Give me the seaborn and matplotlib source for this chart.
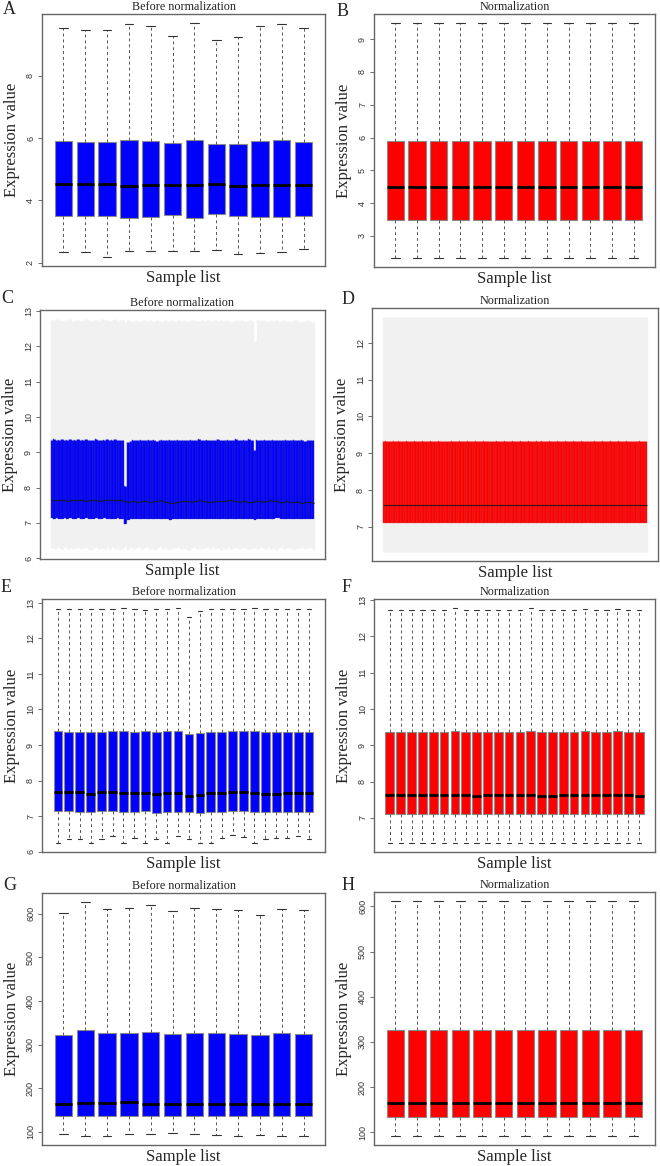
import matplotlib
matplotlib.use("Agg")
import matplotlib.pyplot as plt
import seaborn as sns
import pandas as pd

# ---------------- data ----------------
# each panel: lower whisker, Q1, median, Q3, upper whisker per sample

# A - before normalization (12 samples)
wlo_a = [2.34, 2.35, 2.19, 2.38, 2.38, 2.38, 2.36, 2.40, 2.27, 2.32, 2.35, 2.44]
q1_a = [3.50, 3.50, 3.48, 3.44, 3.47, 3.53, 3.44, 3.57, 3.51, 3.47, 3.47, 3.49]
med_a = [4.52, 4.52, 4.52, 4.46, 4.48, 4.48, 4.49, 4.51, 4.46, 4.50, 4.50, 4.50]
q3_a = [5.90, 5.88, 5.86, 5.93, 5.90, 5.84, 5.95, 5.82, 5.80, 5.90, 5.93, 5.88]
whi_a = [9.52, 9.48, 9.46, 9.65, 9.60, 9.28, 9.68, 9.16, 9.24, 9.60, 9.65, 9.52]

# B - normalization (12 samples, identical)
wlo_b = [2.34] * 12
q1_b = [3.48] * 12
med_b = [4.49] * 12
q3_b = [5.89] * 12
whi_b = [9.48] * 12

# C - before normalization (100 samples)
wlo_c = [6.30, 6.26, 6.32, 6.28, 6.25, 6.31, 6.27, 6.33, 6.26, 6.29,
         6.32, 6.25, 6.28, 6.31, 6.27, 6.24, 6.30, 6.33, 6.26, 6.29,
         6.25, 6.31, 6.27, 6.32, 6.26, 6.30, 6.24, 6.28, 6.35, 6.27,
         6.31, 6.26, 6.29, 6.33, 6.25, 6.28, 6.32, 6.27, 6.30, 6.24,
         6.29, 6.33, 6.26, 6.30, 6.27, 6.25, 6.31, 6.28, 6.33, 6.26,
         6.30, 6.27, 6.24, 6.29, 6.32, 6.26, 6.30, 6.25, 6.28, 6.31,
         6.27, 6.33, 6.26, 6.29, 6.24, 6.30, 6.27, 6.32, 6.25, 6.29,
         6.31, 6.26, 6.28, 6.33, 6.27, 6.25, 6.30, 6.28, 6.26, 6.32,
         6.29, 6.25, 6.31, 6.27, 6.30, 6.24, 6.28, 6.33, 6.26, 6.29,
         6.31, 6.27, 6.25, 6.30, 6.28, 6.32, 6.26, 6.29, 6.31, 6.27]
q1_c = [7.13, 7.12, 7.13, 7.12, 7.12, 7.13, 7.12, 7.13, 7.12, 7.12,
        7.13, 7.12, 7.12, 7.13, 7.12, 7.11, 7.12, 7.13, 7.12, 7.12,
        7.13, 7.12, 7.12, 7.11, 7.12, 7.13, 7.11, 7.10, 6.98, 7.09,
        7.10, 7.11, 7.12, 7.11, 7.10, 7.11, 7.12, 7.11, 7.10, 7.11,
        7.12, 7.11, 7.10, 7.11, 7.10, 7.09, 7.10, 7.11, 7.12, 7.11,
        7.10, 7.11, 7.12, 7.11, 7.10, 7.11, 7.12, 7.11, 7.10, 7.11,
        7.12, 7.11, 7.10, 7.11, 7.12, 7.11, 7.10, 7.11, 7.12, 7.11,
        7.10, 7.11, 7.12, 7.11, 7.10, 7.11, 7.12, 7.09, 7.11, 7.12,
        7.11, 7.10, 7.11, 7.12, 7.11, 7.13, 7.14, 7.12, 7.11, 7.12,
        7.11, 7.10, 7.11, 7.12, 7.11, 7.10, 7.11, 7.12, 7.11, 7.10]
med_c = [7.65, 7.66, 7.64, 7.65, 7.66, 7.65, 7.63, 7.66, 7.65, 7.64,
         7.66, 7.65, 7.64, 7.62, 7.65, 7.66, 7.64, 7.65, 7.63, 7.66,
         7.65, 7.64, 7.66, 7.65, 7.64, 7.66, 7.65, 7.63, 7.62, 7.60,
         7.61, 7.62, 7.60, 7.59, 7.61, 7.62, 7.63, 7.60, 7.59, 7.61,
         7.63, 7.64, 7.62, 7.60, 7.58, 7.57, 7.56, 7.58, 7.60, 7.62,
         7.61, 7.63, 7.62, 7.60, 7.61, 7.62, 7.64, 7.63, 7.61, 7.60,
         7.58, 7.59, 7.61, 7.62, 7.63, 7.61, 7.62, 7.64, 7.65, 7.63,
         7.61, 7.60, 7.62, 7.61, 7.59, 7.58, 7.60, 7.61, 7.63, 7.62,
         7.60, 7.61, 7.62, 7.64, 7.63, 7.62, 7.60, 7.58, 7.59, 7.61,
         7.60, 7.58, 7.59, 7.60, 7.58, 7.57, 7.59, 7.60, 7.58, 7.57]
q3_c = [9.36, 9.37, 9.35, 9.36, 9.37, 9.36, 9.35, 9.37, 9.36, 9.36,
        9.37, 9.35, 9.36, 9.37, 9.36, 9.35, 9.36, 9.37, 9.36, 9.35,
        9.36, 9.37, 9.36, 9.35, 9.37, 9.36, 9.34, 9.35, 8.05, 9.30,
        9.33, 9.35, 9.36, 9.34, 9.35, 9.36, 9.35, 9.34, 9.36, 9.35,
        9.33, 9.35, 9.36, 9.35, 9.34, 9.36, 9.35, 9.36, 9.34, 9.35,
        9.36, 9.35, 9.34, 9.36, 9.35, 9.36, 9.37, 9.35, 9.36, 9.35,
        9.34, 9.36, 9.35, 9.37, 9.36, 9.35, 9.36, 9.34, 9.35, 9.36,
        9.37, 9.35, 9.36, 9.35, 9.36, 9.37, 9.35, 9.08, 9.34, 9.36,
        9.35, 9.36, 9.35, 9.34, 9.36, 9.35, 9.36, 9.35, 9.34, 9.36,
        9.35, 9.34, 9.35, 9.36, 9.34, 9.35, 9.33, 9.34, 9.35, 9.34]
whi_c = [12.76, 12.74, 12.77, 12.75, 12.73, 12.76, 12.74, 12.77, 12.72, 12.75,
         12.76, 12.73, 12.75, 12.77, 12.74, 12.72, 12.76, 12.75, 12.73, 12.77,
         12.74, 12.76, 12.72, 12.75, 12.77, 12.73, 12.76, 12.74, 12.70, 12.76,
         12.72, 12.70, 12.74, 12.73, 12.71, 12.75, 12.72, 12.74, 12.73, 12.71,
         12.75, 12.73, 12.70, 12.74, 12.72, 12.75, 12.73, 12.71, 12.74, 12.72,
         12.75, 12.73, 12.72, 12.74, 12.76, 12.73, 12.71, 12.74, 12.72, 12.75,
         12.73, 12.71, 12.74, 12.72, 12.75, 12.73, 12.74, 12.72, 12.70, 12.73,
         12.75, 12.72, 12.74, 12.71, 12.73, 12.75, 12.72, 12.15, 12.74, 12.72,
         12.75, 12.73, 12.71, 12.74, 12.72, 12.75, 12.73, 12.71, 12.74, 12.72,
         12.73, 12.71, 12.74, 12.72, 12.70, 12.73, 12.71, 12.74, 12.72, 12.70]

# D - normalization (100 samples, identical)
wlo_d = [6.33] * 100
q1_d = [7.11] * 100
med_d = [7.59] * 100
q3_d = [9.34] * 100
whi_d = [12.69] * 100

# E - before normalization (24 samples)
wlo_e = [6.26, 6.36, 6.36, 6.26, 6.36, 6.45, 6.26, 6.40, 6.26, 6.36, 6.26, 6.45,
         6.36, 6.26, 6.26, 6.40, 6.47, 6.43, 6.26, 6.36, 6.40, 6.40, 6.45, 6.36]
q1_e = [7.14, 7.14, 7.13, 7.11, 7.14, 7.14, 7.12, 7.13, 7.14, 7.10, 7.13, 7.12,
        7.11, 7.10, 7.12, 7.13, 7.14, 7.14, 7.13, 7.11, 7.11, 7.12, 7.12, 7.13]
med_e = [7.69, 7.69, 7.67, 7.62, 7.67, 7.69, 7.66, 7.64, 7.64, 7.62, 7.64, 7.66,
         7.56, 7.60, 7.64, 7.66, 7.67, 7.67, 7.66, 7.62, 7.62, 7.64, 7.64, 7.64]
q3_e = [9.39, 9.38, 9.38, 9.38, 9.38, 9.39, 9.39, 9.38, 9.39, 9.37, 9.39, 9.39,
        9.30, 9.35, 9.37, 9.38, 9.39, 9.39, 9.39, 9.36, 9.36, 9.38, 9.37, 9.38]
whi_e = [12.83, 12.81, 12.81, 12.83, 12.81, 12.81, 12.84, 12.81, 12.80, 12.83, 12.83, 12.84,
         12.60, 12.76, 12.81, 12.81, 12.83, 12.83, 12.84, 12.81, 12.81, 12.83, 12.81, 12.81]

# F - normalization (24 samples)
wlo_f = [6.32] * 24
q1_f = [7.12] * 24
med_f = [7.62, 7.62, 7.62, 7.62, 7.62, 7.63, 7.62, 7.62, 7.61, 7.62, 7.62, 7.62,
         7.62, 7.62, 7.61, 7.61, 7.62, 7.62, 7.62, 7.62, 7.62, 7.62, 7.62, 7.61]
q3_f = [9.37, 9.37, 9.37, 9.37, 9.37, 9.37, 9.39, 9.37, 9.37, 9.37, 9.37, 9.37,
        9.37, 9.39, 9.37, 9.37, 9.37, 9.37, 9.38, 9.37, 9.37, 9.38, 9.37, 9.37]
whi_f = [12.73, 12.73, 12.73, 12.73, 12.72, 12.73, 12.77, 12.72, 12.72, 12.73, 12.73, 12.73,
         12.73, 12.77, 12.72, 12.72, 12.73, 12.73, 12.75, 12.73, 12.73, 12.75, 12.72, 12.72]

# G - before normalization (12 samples)
wlo_g = [93.9, 90.9, 90.9, 93.9, 93.9, 96.2, 93.9, 92.4, 90.9, 93.2, 90.9, 90.9]
q1_g = [135, 135, 135, 135, 135, 135, 135, 135, 135, 135, 135, 135]
med_g = [163.0, 165.3, 165.3, 167.6, 163.8, 163.0, 163.0, 163.0, 163.8, 163.0, 163.8, 163.0]
q3_g = [322.8, 332.7, 326.6, 327.4, 329.6, 324.3, 326.6, 325.8, 325.1, 321.3, 325.8, 325.1]
whi_g = [601.5, 626.6, 612.0, 613.7, 621.0, 606.8, 612.9, 610.6, 609.0, 597.7, 610.6, 608.4]

# H - normalization (12 samples, identical)
wlo_h = [92.6] * 12
q1_h = [134.6] * 12
med_h = [164.0] * 12
q3_h = [326.5] * 12
whi_h = [611.0] * 12

BLUE = "#0000ff"
RED = "#ff0000"

sns.set_style("white")
plt.rcParams["font.family"] = ["Liberation Serif", "DejaVu Serif"]


def to_long(wlo, q1, med, q3, whi):
    rows = []
    for i, vals in enumerate(zip(wlo, q1, med, q3, whi)):
        for v in vals:
            rows.append({"sample": i, "value": v})
    return pd.DataFrame(rows)


def draw_panel(ax, df, fill, title, yticks, width_px, height_px, dense=False):
    n = df["sample"].nunique()
    if dense:
        # many samples: boxes touch, whiskers merge into a light grey band
        edge = "#2a2ab8" if fill == BLUE else "#d83535"
        sns.boxplot(data=df, x="sample", y="value", ax=ax, color=fill,
                    saturation=1, width=1.0, whis=(0, 100), fliersize=0,
                    showcaps=False,
                    boxprops=dict(edgecolor=edge, linewidth=0.35),
                    whiskerprops=dict(color="#f1f1f1", linewidth=2.4, linestyle="-"),
                    medianprops=dict(color="#1a1a1a", linewidth=0.8))
    else:
        sns.boxplot(data=df, x="sample", y="value", ax=ax, color=fill,
                    saturation=1, width=0.8, whis=(0, 100), fliersize=0,
                    boxprops=dict(edgecolor="#8a8a8a", linewidth=0.8),
                    whiskerprops=dict(color="#555555", linewidth=0.7,
                                      linestyle=(0, (3, 3))),
                    capprops=dict(color="#333333", linewidth=0.8),
                    medianprops=dict(color="black", linewidth=2.0))

    # R-like 4% axis extension
    lo, hi = df["value"].min(), df["value"].max()
    pad = (hi - lo) * 0.04
    ax.set_ylim(lo - pad, hi + pad)
    ax.set_xlim(-0.5 - 0.04 * n, n - 0.5 + 0.04 * n)

    ax.set_xticks([])
    ax.set_yticks(yticks)
    ax.set_yticklabels([str(t) for t in yticks], rotation=90, va="center",
                       family="Liberation Sans", fontsize=6.5, color="#333333")
    ax.tick_params(axis="y", left=True, length=3, width=0.6, color="#555555", pad=2)

    ax.set_title(title, fontsize=8.7, pad=3, color="#222222")
    ax.set_xlabel("Sample list", fontsize=12, va="top")
    ax.set_ylabel("Expression value", fontsize=12)
    ax.xaxis.set_label_coords(0.5, -4 / height_px)
    ax.yaxis.set_label_coords(-22 / width_px, 0.5)

    for sp in ax.spines.values():
        sp.set_visible(True)
        sp.set_color("#666666")
        sp.set_linewidth(1.0)


W, H = 660, 1166
fig = plt.figure(figsize=(W / 100, H / 100), dpi=100)

# pixel boxes: left, top, right, bottom
panels = [
    ("A", (42, 14, 325, 266), to_long(wlo_a, q1_a, med_a, q3_a, whi_a), BLUE,
     "Before normalization", [2, 4, 6, 8], False, (3, 1)),
    ("B", (374, 14, 655, 267), to_long(wlo_b, q1_b, med_b, q3_b, whi_b), RED,
     "Normalization", [3, 4, 5, 6, 7, 8, 9], False, (337, 3)),
    ("C", (40, 310, 325, 559), to_long(wlo_c, q1_c, med_c, q3_c, whi_c), BLUE,
     "Before normalization", [6, 7, 8, 9, 10, 11, 12, 13], True, (1, 290)),
    ("D", (372, 308, 658, 561), to_long(wlo_d, q1_d, med_d, q3_d, whi_d), RED,
     "Normalization", [7, 8, 9, 10, 11, 12], True, (342, 291)),
    ("E", (42, 599, 325, 852), to_long(wlo_e, q1_e, med_e, q3_e, whi_e), BLUE,
     "Before normalization", [6, 7, 8, 9, 10, 11, 12, 13], False, (1, 579)),
    ("F", (374, 599, 655, 852), to_long(wlo_f, q1_f, med_f, q3_f, whi_f), RED,
     "Normalization", [7, 8, 9, 10, 11, 12, 13], False, (342, 579)),
    ("G", (42, 893, 325, 1145), to_long(wlo_g, q1_g, med_g, q3_g, whi_g), BLUE,
     "Before normalization", [100, 200, 300, 400, 500, 600], False, (3, 877)),
    ("H", (374, 892, 655, 1145), to_long(wlo_h, q1_h, med_h, q3_h, whi_h), RED,
     "Normalization", [100, 200, 300, 400, 500, 600], False, (342, 877)),
]

for letter, (l, t, r, b), df, col, title, ticks, dense, (lx, ly) in panels:
    ax = fig.add_axes([l / W, 1 - b / H, (r - l) / W, (b - t) / H])
    draw_panel(ax, df, col, title, ticks, r - l, b - t, dense)
    fig.text(lx / W, 1 - ly / H, letter, fontsize=13, ha="left", va="top")

fig.savefig("out.png", dpi=100)
